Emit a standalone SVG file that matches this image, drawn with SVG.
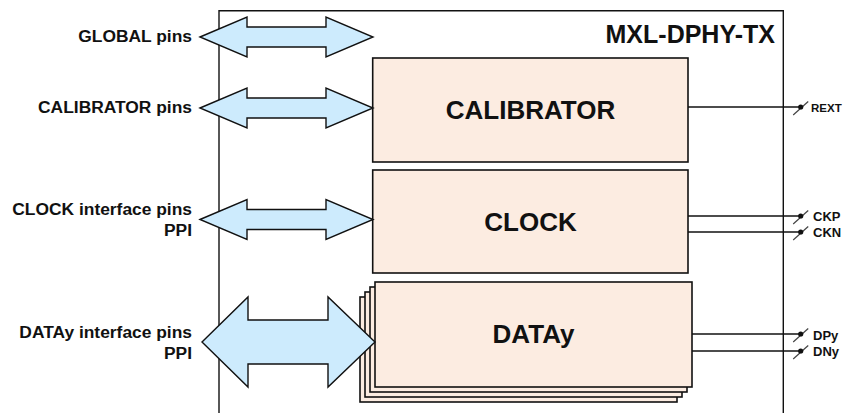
<svg xmlns="http://www.w3.org/2000/svg" width="843" height="413" viewBox="0 0 843 413">
<style>
.lbl{font-family:"Liberation Sans",Arial,sans-serif;font-weight:bold;fill:#111}
.side{font-size:17.4px;text-anchor:end}
.blk{font-size:26px;text-anchor:middle}
.pin{font-size:13px}
.box{fill:#FCECE1;stroke:#111;stroke-width:1.6}
.arr{fill:#CDEBFD;stroke:#111;stroke-width:1.4;stroke-linejoin:miter}
.wire{stroke:#111;stroke-width:1.4;fill:none}
.slash{stroke:#444;stroke-width:1.2}
</style>
<defs>
<g id="pinsym">
<line class="slash" x1="-7.5" y1="8" x2="7.5" y2="-5.5"/>
<circle cx="0" cy="0" r="2.6" fill="#111"/>
</g>
</defs>
<rect width="843" height="413" fill="#fff"/>
<g id="outer">
<path d="M219,414 V10.7 H783.3 V414" fill="none" stroke="#111" stroke-width="1.4"/>
<text class="lbl" x="775" y="43" font-size="25" text-anchor="end">MXL-DPHY-TX</text>
</g>
<g id="calibrator">
<rect class="box" x="372.7" y="58" width="315.3" height="104"/>
<text class="lbl blk" x="530.5" y="119">CALIBRATOR</text>
</g>
<g id="clock">
<rect class="box" x="372.7" y="170" width="315.3" height="103"/>
<text class="lbl blk" x="530.5" y="231">CLOCK</text>
</g>
<g id="datay">
<rect class="box" x="360" y="297" width="317" height="105"/>
<rect class="box" x="365" y="292" width="317" height="105"/>
<rect class="box" x="370" y="287" width="317" height="105"/>
<rect class="box" x="375" y="282" width="317" height="105"/>
<text class="lbl blk" x="533.5" y="343">DATAy</text>
</g>
<g id="global-pins">
<path class="arr" d="M200,37 L247,17 V27 H326 V17 L373,37 L326,57 V47 H247 V57 Z"/>
<text class="lbl side" x="192" y="42">GLOBAL pins</text>
</g>
<g id="calibrator-pins">
<path class="arr" d="M200,108 L247,88 V98 H326 V88 L373,108 L326,128 V118 H247 V128 Z"/>
<text class="lbl side" x="192" y="113">CALIBRATOR pins</text>
</g>
<g id="clock-pins">
<path class="arr" d="M200,219.5 L247,199.5 V209.5 H326 V199.5 L373,219.5 L326,239.5 V229.5 H247 V239.5 Z"/>
<text class="lbl side" x="192" y="215">CLOCK interface pins</text>
<text class="lbl side" x="192" y="236">PPI</text>
</g>
<g id="datay-pins">
<path class="arr" d="M202,342 L248,297 V320 H328 V297 L375,342 L328,387 V364 H248 V387 Z"/>
<text class="lbl side" x="192" y="338">DATAy interface pins</text>
<text class="lbl side" x="192" y="359">PPI</text>
</g>
<g id="connectors">
<line class="wire" x1="688" y1="107" x2="800.7" y2="107"/>
<line class="wire" x1="688" y1="216" x2="800.7" y2="216"/>
<line class="wire" x1="688" y1="232" x2="800.7" y2="232"/>
<line class="wire" x1="692" y1="334" x2="800.7" y2="334"/>
<line class="wire" x1="692" y1="351" x2="800.7" y2="351"/>
</g>
<g id="pin-rext">
<use href="#pinsym" x="800.7" y="107"/>
<text class="lbl" x="811" y="112" font-size="11.5">REXT</text>
</g>
<g id="pin-ckp">
<use href="#pinsym" x="800.7" y="216"/>
<text class="lbl pin" x="813" y="221">CKP</text>
</g>
<g id="pin-ckn">
<use href="#pinsym" x="800.7" y="232"/>
<text class="lbl pin" x="813" y="237">CKN</text>
</g>
<g id="pin-dpy">
<use href="#pinsym" x="800.7" y="334"/>
<text class="lbl pin" x="813" y="340">DPy</text>
</g>
<g id="pin-dny">
<use href="#pinsym" x="800.7" y="351"/>
<text class="lbl pin" x="813" y="356">DNy</text>
</g>
</svg>
